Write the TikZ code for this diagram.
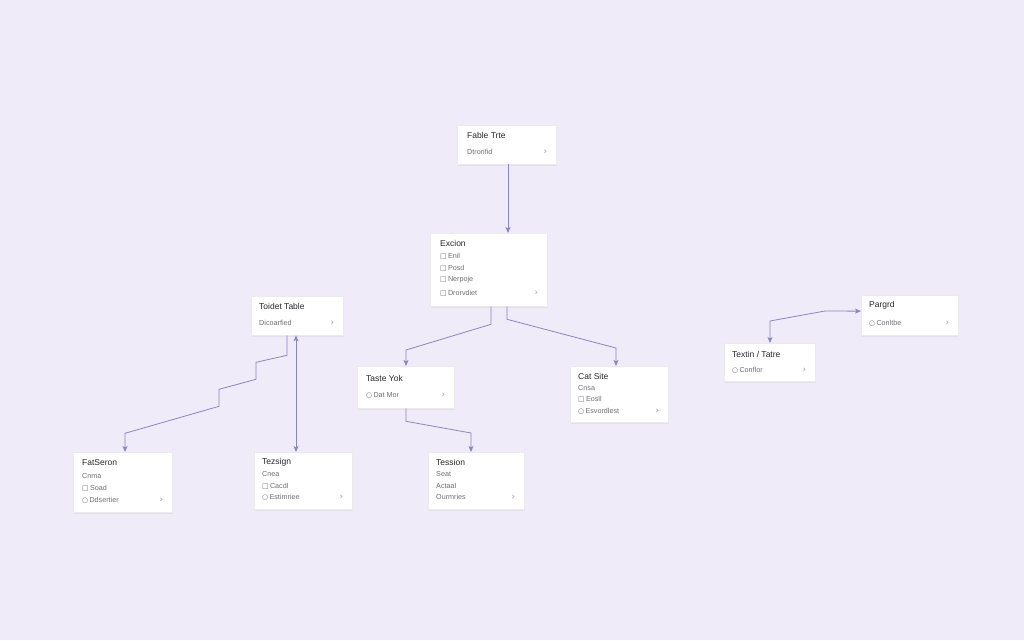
\documentclass[tikz,border=0pt]{standalone}
\usepackage{fontspec}
\setmainfont{Liberation Sans}
\newfontfamily\symf{DejaVu Sans}
\usetikzlibrary{arrows.meta,shadows,calc}
\definecolor{bgcol}{HTML}{EFEBF8}
\definecolor{linecol}{HTML}{8A86BE}
\definecolor{titlecol}{HTML}{28282C}
\definecolor{itemcol}{HTML}{707076}
\definecolor{chevcol}{HTML}{9A9AA0}
\newcommand{\cbox}{{\symf\fontsize{7}{7}\selectfont □}\,}
\newcommand{\crad}{{\symf\fontsize{7}{7}\selectfont ○}\,}
\tikzset{
  box/.style={draw=white!92!black, line width=0.3pt, fill=white, anchor=north west, inner sep=0pt,
    drop shadow={opacity=0.10, shadow xshift=1pt, shadow yshift=-2pt}},
  ttl/.style={anchor=west, inner sep=0pt, text=titlecol, font=\fontsize{8.5}{9}\selectfont},
  itm/.style={anchor=west, inner sep=0pt, text=itemcol, font=\fontsize{7.2}{8}\selectfont},
  chev/.style={anchor=center, inner sep=0pt, text=chevcol, font=\symf\fontsize{9}{9}\selectfont},
  tip/.tip={Stealth[length=6pt,width=5pt,inset=1.5pt]},
  conn/.style={draw=linecol, line width=0.8pt, -tip},
  conn2/.style={draw=linecol, line width=0.8pt, tip-tip}
}
\begin{document}
\begin{tikzpicture}[x=1pt,y=-1pt]
\fill[bgcol] (0,0) rectangle (1024,640);
\useasboundingbox (0,0) rectangle (1024,640);

% boxes
\node[box, minimum width=99pt, minimum height=39pt] (ft) at (457,125) {};
\node[box, minimum width=117pt, minimum height=73pt] (ex) at (430,233) {};
\node[box, minimum width=92pt, minimum height=39pt] (tt) at (251,296) {};
\node[box, minimum width=97pt, minimum height=42pt] (ta) at (357,366) {};
\node[box, minimum width=98pt, minimum height=56pt] (cs) at (570,366) {};
\node[box, minimum width=99pt, minimum height=60pt] (fs) at (73,452) {};
\node[box, minimum width=98pt, minimum height=57pt] (tz) at (254,452) {};
\node[box, minimum width=96pt, minimum height=57pt] (te) at (428,452) {};
\node[box, minimum width=97pt, minimum height=40pt] (pg) at (861,295) {};
\node[box, minimum width=91pt, minimum height=38pt] (tx) at (724,343) {};

% Fable Trte
\node[ttl] (ft1) at ($(ft.north west)+(10,10)$) {Fable Trte};
\node[itm] (ft2) at ($(ft.north west)+(10,27)$) {Dtrorifid};
\node[chev] (ftc) at ($(ft.north east)+(-11,27)$) {›};

% Excion
\node[ttl] (ex1) at ($(ex.north west)+(10,10)$) {Excion};
\node[itm] (ex2) at ($(ex.north west)+(10,23)$) {\cbox Enil};
\node[itm] (ex3) at ($(ex.north west)+(10,35)$) {\cbox Posd};
\node[itm] (ex4) at ($(ex.north west)+(10,47)$) {\cbox Nerpoje};
\node[itm] (ex5) at ($(ex.north west)+(10,60)$) {\cbox Drorvdiet};
\node[chev] (exc) at ($(ex.north east)+(-11,60)$) {›};

% Toidet Table
\node[ttl] (tt1) at ($(tt.north west)+(8,10)$) {Toidet Table};
\node[itm] (tt2) at ($(tt.north west)+(8,27)$) {Dicoarfied};
\node[chev] (ttc) at ($(tt.north east)+(-11,27)$) {›};

% Taste Yok
\node[ttl] (ta1) at ($(ta.north west)+(9,12)$) {Taste Yok};
\node[itm] (ta2) at ($(ta.north west)+(9,29)$) {\crad Dat Mor};
\node[chev] (tac) at ($(ta.north east)+(-11,29)$) {›};

% Cat Site
\node[ttl] (cs1) at ($(cs.north west)+(8,10)$) {Cat Site};
\node[itm] (cs2) at ($(cs.north west)+(8,22)$) {Cnsa};
\node[itm] (cs3) at ($(cs.north west)+(8,33)$) {\cbox Eosll};
\node[itm] (cs4) at ($(cs.north west)+(8,45)$) {\crad Esvordlest};
\node[chev] (csc) at ($(cs.north east)+(-11,45)$) {›};

% FatSeron
\node[ttl] (fs1) at ($(fs.north west)+(9,11)$) {FatSeron};
\node[itm] (fs2) at ($(fs.north west)+(9,24)$) {Cnma};
\node[itm] (fs3) at ($(fs.north west)+(9,36)$) {\cbox Soad};
\node[itm] (fs4) at ($(fs.north west)+(9,48)$) {\crad Ddsertier};
\node[chev] (fsc) at ($(fs.north east)+(-11,48)$) {›};

% Tezsign
\node[ttl] (tz1) at ($(tz.north west)+(8,10)$) {Tezsign};
\node[itm] (tz2) at ($(tz.north west)+(8,22)$) {Cnea};
\node[itm] (tz3) at ($(tz.north west)+(8,34)$) {\cbox Cacdl};
\node[itm] (tz4) at ($(tz.north west)+(8,45)$) {\crad Estimriee};
\node[chev] (tzc) at ($(tz.north east)+(-11,45)$) {›};

% Tession
\node[ttl] (te1) at ($(te.north west)+(8,10)$) {Tession};
\node[itm] (te2) at ($(te.north west)+(8,22)$) {Seat};
\node[itm] (te3) at ($(te.north west)+(8,34)$) {Actaal};
\node[itm] (te4) at ($(te.north west)+(8,45)$) {Ourmries};
\node[chev] (tec) at ($(te.north east)+(-11,45)$) {›};

% Pargrd
\node[ttl] (pg1) at ($(pg.north west)+(8,10)$) {Pargrd};
\node[itm] (pg2) at ($(pg.north west)+(8,28)$) {\crad Conltbe};
\node[chev] (pgc) at ($(pg.north east)+(-11,28)$) {›};

% Textin / Tatre
\node[ttl] (tx1) at ($(tx.north west)+(8,11)$) {Textin / Tatre};
\node[itm] (tx2) at ($(tx.north west)+(8,27)$) {\crad Conflor};
\node[chev] (txc) at ($(tx.north east)+(-11,27)$) {›};

% connectors
\draw[conn] ([xshift=51pt]ft.south west) -- ([xshift=78pt]ex.north west);
\draw[conn] ([xshift=61pt]ex.south west) -- ++(0,18) -- ([xshift=49pt,yshift=16pt]ta.north west) -- ([xshift=49pt]ta.north west);
\draw[conn] ([xshift=77pt]ex.south west) -- ++(0,13) -- ([xshift=46pt,yshift=18pt]cs.north west) -- ([xshift=46pt]cs.north west);
\draw[conn] ([xshift=36pt]tt.south west) -- ++(0,20) -- ++(-31,7) -- ++(0,17) -- ++(-37,10) -- ++(0,17) -- ++(-94,27) -- ([xshift=52pt]fs.north west);
\draw[conn2] ([xshift=45pt]tt.south west) -- ([xshift=42pt]tz.north west);
\draw[conn] ([xshift=49pt]ta.south west) -- ++(0,13) -- ([xshift=43pt,yshift=19pt]te.north west) -- ([xshift=43pt]te.north west);
\draw[conn2] ([xshift=46pt]tx.north west) -- ++(0,-22) -- ++(55,-10) -- ([yshift=4pt]pg.west);
\end{tikzpicture}
\end{document}
